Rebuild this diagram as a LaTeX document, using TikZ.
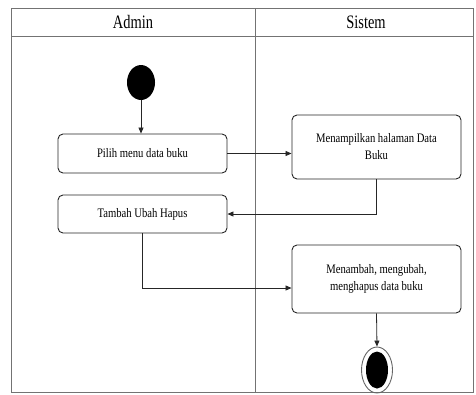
\documentclass[tikz,border=0pt]{standalone}
\usepackage{fontspec}
\setmainfont{Liberation Serif}
\newfontfamily\lblfont[FakeStretch=0.82]{Liberation Serif}
\newfontfamily\headfont[FakeStretch=0.76]{Liberation Serif}
\usetikzlibrary{arrows.meta,shapes.geometric}
\tikzset{
  lane/.style={draw=black!55, line width=0.9pt},
  actbox/.style={draw=black!85, line width=0.9pt, rounded corners=5pt,
    minimum width=169pt, align=center, inner sep=2pt,
    font=\lblfont\fontsize{13}{17}\selectfont},
  flow/.style={draw=black!85, line width=0.8pt, -{Triangle[length=6pt,width=5pt]}},
  head/.style={font=\headfont\fontsize{19}{22}\selectfont},
}
\begin{document}
\begin{tikzpicture}[x=1pt,y=-1pt]
  \useasboundingbox (0,0) rectangle (476,394);
  % swimlane frame
  \draw[lane] (11,8) rectangle (473,392);
  \draw[lane] (11,36) -- (473,36);
  \draw[lane] (255,8) -- (255,392);
  \node[head] (hadmin) at (133,22) {Admin};
  \node[head] (hsistem) at (366,22) {Sistem};

  % start node
  \node[ellipse, fill=black, minimum width=28pt, minimum height=35pt, inner sep=0pt] (start) at (141,82.5) {};

  % activities
  \node[actbox, minimum height=39pt] (pilih) at (142.5,153.5) {Pilih menu data buku};
  \node[actbox, minimum height=64pt] (tampil) at (376.5,147) {Menampilkan halaman Data\\Buku};
  \node[actbox, minimum height=38pt] (tuh) at (142.5,214) {Tambah Ubah Hapus};
  \node[actbox, minimum height=68pt] (proses) at (376.5,279) {Menambah, mengubah,\\menghapus data buku};

  % end node
  \node[ellipse, draw=black!60, line width=0.9pt, minimum width=31pt, minimum height=46pt, inner sep=0pt] (akhir) at (377,370) {};
  \node[ellipse, fill=black, minimum width=22pt, minimum height=37pt, inner sep=0pt] (akhirin) at (akhir.center) {};

  % control flow
  \draw[flow] (start.south) -- (start.south |- pilih.north);
  \draw[flow] (pilih.east) -- (pilih.east -| tampil.west);
  \draw[flow] (tampil.south) |- (tuh.east);
  \draw[flow] (tuh.south) |- ([yshift=-9pt]proses.west);
  \draw[flow] (proses.south) -- (akhir.north);
\end{tikzpicture}
\end{document}
